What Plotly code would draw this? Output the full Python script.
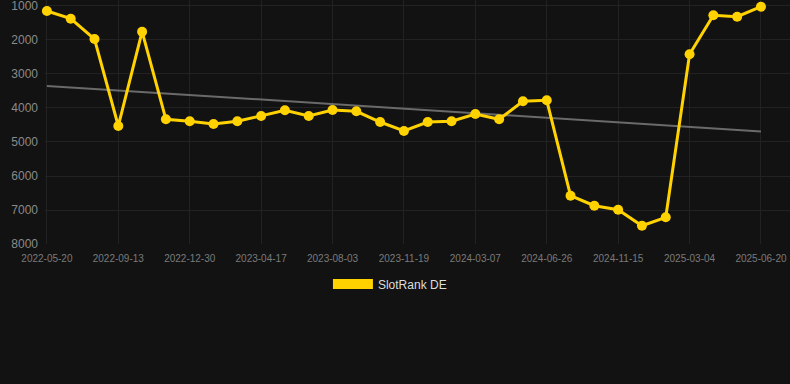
import plotly.graph_objects as go

dates = ["2022-05-20", "2022-06-28", "2022-08-05", "2022-09-13", "2022-10-19", "2022-11-24",
         "2022-12-30", "2023-02-04", "2023-03-12", "2023-04-17", "2023-05-23", "2023-06-28",
         "2023-08-03", "2023-09-08", "2023-10-14", "2023-11-19", "2023-12-25", "2024-01-31",
         "2024-03-07", "2024-04-13", "2024-05-20", "2024-06-26", "2024-08-12", "2024-09-29",
         "2024-11-15", "2024-12-21", "2025-01-26", "2025-03-04", "2025-04-09", "2025-05-15",
         "2025-06-20"]
rank_de = [1147, 1373, 1971, 4529, 1756, 4332, 4391, 4471, 4391, 4235, 4068, 4235,
           4059, 4097, 4412, 4676, 4412, 4391, 4176, 4332, 3803, 3774, 6579, 6874,
           6991, 7462, 7215, 2421, 1274, 1315, 1021]
trend_x = [dates[0], dates[-1]]
trend_y = [3350, 4690]
tick_labels = dates[::3]
y_ticks = [1000, 2000, 3000, 4000, 5000, 6000, 7000, 8000]
series_name = "SlotRank DE"

YELLOW = "#FFD200"
BG = "#121212"
GRID = "#222222"

fig = go.Figure()
fig.add_trace(go.Scatter(
    x=trend_x, y=trend_y, mode="lines",
    line=dict(color="#6a6a6a", width=2),
    showlegend=False, hoverinfo="skip"))
fig.add_trace(go.Scatter(
    x=dates, y=rank_de, mode="lines+markers",
    line=dict(color=YELLOW, width=3),
    marker=dict(color=YELLOW, size=10),
    cliponaxis=False,
    showlegend=False, name=series_name))
fig.add_trace(go.Scatter(
    x=[None], y=[None], mode="lines",
    line=dict(color=YELLOW, width=11),
    name=series_name, showlegend=True))

fig.update_layout(
    width=790, height=384,
    paper_bgcolor=BG, plot_bgcolor=BG,
    margin=dict(l=45, r=0, t=0, b=140),
    font=dict(family="Liberation Sans, Arial, sans-serif"),
    showlegend=True,
    legend=dict(orientation="h", x=0.463, xanchor="center", y=-0.104, yanchor="top",
                font=dict(color="#dddddd", size=12), bgcolor="rgba(0,0,0,0)",
                itemwidth=40),
    xaxis=dict(type="category", categoryorder="array", categoryarray=dates,
               range=[-0.08, 31.22],
               tickmode="array", tickvals=tick_labels, ticktext=tick_labels,
               tickfont=dict(color="#7a7a7a", size=10),
               ticklabelstandoff=7,
               showgrid=True, gridcolor=GRID, gridwidth=1,
               zeroline=False, showline=False, ticks=""),
    yaxis=dict(range=[8000, 824], tickmode="array", tickvals=y_ticks,
               ticktext=[str(v) for v in y_ticks],
               tickfont=dict(color="#8a8a8a", size=12),
               ticklabelstandoff=6, ticklabeloverflow="allow",
               showgrid=True, gridcolor=GRID, gridwidth=1,
               zeroline=False, showline=False, ticks=""),
)

fig.write_html("out.html", config={"displayModeBar": False},
               post_script="document.body.style.margin='0';document.body.style.background='#121212';")
